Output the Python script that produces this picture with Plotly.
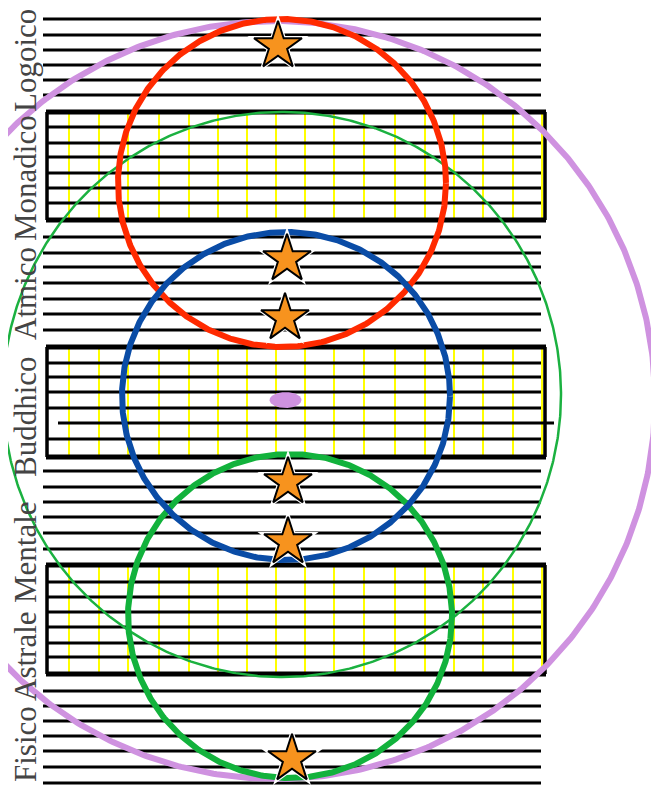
import numpy as np
import plotly.graph_objects as go

W, H = 659, 785
PAGE_OFFSET = 8  # browser default body margin

# ---- data (pixel-space diagram coordinates) ----
PLANE_NAMES = ["Logoico", "Monadico", "Atmico", "Buddhico", "Mentale", "Astrale", "Fisico"]
LABEL_Y = [61, 178, 294, 417, 552, 656, 744]

PLAIN_LINES_Y = [19, 35, 50, 65, 80, 95,
                 237, 253, 267, 283, 299, 314, 330,
                 471, 487, 502, 517, 533, 549,
                 691, 706, 721, 736, 751, 767, 783]
BOX_TOP = [112, 347, 565]
BOX_BOTTOM = [220, 457, 674]
BOX_INNER_Y = [[127, 143, 157, 173, 188, 203],
               [363, 377, 392, 408, 439],
               [582, 597, 612, 627, 643, 657]]
MID_LINE_Y = [423]
YELLOW_X = [69, 99, 128, 159, 189, 218, 247, 276, 305, 334, 364, 395, 425, 454, 483, 513, 542]

LINE_X = [43, 541]
BOX_X = [47, 545]
MID_LINE_X = [58, 554]

CIRCLE_NAMES = ["lilla", "verde_sottile", "verde", "rosso", "blu"]
CIRCLE_CX = [276, 282, 290, 282, 286]
CIRCLE_CY = [400, 394.5, 616, 183, 396]
CIRCLE_RX = [379, 279, 162, 164, 164]
CIRCLE_RY = [379, 282.5, 162, 164, 164]
CIRCLE_COLORS = ["#CF92E0", "#1BB140", "#12B23C", "#FF2A00", "#0A4CA6"]
CIRCLE_WIDTHS = [6, 2.5, 6, 6, 6]

STAR_X = [278, 287, 285, 288, 288, 292]
STAR_Y = [46, 259, 318, 482, 542, 759]

DOT_X, DOT_Y, DOT_RX, DOT_RY = 285.5, 400, 16, 8

fig = go.Figure()

def hsegs(ys, x0, x1):
    xs, yy = [], []
    for y in ys:
        xs += [x0, x1, None]
        yy += [y, y, None]
    return xs, yy

# yellow verticals inside boxes
yx, yy = [], []
for t, b in zip(BOX_TOP, BOX_BOTTOM):
    for x in YELLOW_X:
        yx += [x, x, None]
        yy += [t + 2, b - 2, None]
fig.add_trace(go.Scatter(x=yx, y=yy, mode="lines", line=dict(color="#FFFF00", width=2), hoverinfo="skip"))

# plain black lines
xs, ys = hsegs(PLAIN_LINES_Y, LINE_X[0], LINE_X[1])
fig.add_trace(go.Scatter(x=xs, y=ys, mode="lines", line=dict(color="black", width=3), hoverinfo="skip"))

# inner box lines
inner = [y for grp in BOX_INNER_Y for y in grp]
xs, ys = hsegs(inner, BOX_X[0], LINE_X[1])
fig.add_trace(go.Scatter(x=xs, y=ys, mode="lines", line=dict(color="black", width=3), hoverinfo="skip"))
xs, ys = hsegs(MID_LINE_Y, MID_LINE_X[0], MID_LINE_X[1])
fig.add_trace(go.Scatter(x=xs, y=ys, mode="lines", line=dict(color="black", width=3), hoverinfo="skip"))

# box tops / bottoms
xs, ys = hsegs(BOX_TOP + BOX_BOTTOM, BOX_X[0] - 1, BOX_X[1] + 1)
fig.add_trace(go.Scatter(x=xs, y=ys, mode="lines", line=dict(color="black", width=5), hoverinfo="skip"))

# box sides
sx, sy = [], []
for t, b in zip(BOX_TOP, BOX_BOTTOM):
    for x in BOX_X:
        sx += [x, x, None]
        sy += [t, b, None]
fig.add_trace(go.Scatter(x=sx, y=sy, mode="lines", line=dict(color="black", width=3.5), hoverinfo="skip"))

# circles
th = np.linspace(0, 2 * np.pi, 721)
for cx, cy, rx, ry, col, w in zip(CIRCLE_CX, CIRCLE_CY, CIRCLE_RX, CIRCLE_RY, CIRCLE_COLORS, CIRCLE_WIDTHS):
    fig.add_trace(go.Scatter(x=cx + rx * np.cos(th), y=cy + ry * np.sin(th), mode="lines",
                             line=dict(color=col, width=w), hoverinfo="skip"))

# small lilac ellipse
fig.add_trace(go.Scatter(x=DOT_X + DOT_RX * np.cos(th), y=DOT_Y + DOT_RY * np.sin(th), mode="lines",
                         fill="toself", fillcolor="#CF92E0", line=dict(color="#CF92E0", width=0),
                         hoverinfo="skip"))

# stars with white halo
fig.add_trace(go.Scatter(x=STAR_X, y=STAR_Y, mode="markers",
                         marker=dict(symbol="star", size=46, color="white", line=dict(width=0)),
                         hoverinfo="skip"))
fig.add_trace(go.Scatter(x=STAR_X, y=STAR_Y, mode="markers",
                         marker=dict(symbol="star", size=36, color="#F7931E",
                                     line=dict(color="black", width=2)),
                         hoverinfo="skip"))

for name, y in zip(PLANE_NAMES, LABEL_Y):
    fig.add_annotation(x=25, y=y, text=name, textangle=-90, showarrow=False,
                       xanchor="center", yanchor="middle",
                       font=dict(family="Liberation Serif", size=31, color="#444444"))

o = PAGE_OFFSET
fig.update_layout(width=W - o, height=H - o, margin=dict(l=0, r=0, t=0, b=0),
                  paper_bgcolor="white", plot_bgcolor="white", showlegend=False,
                  xaxis=dict(range=[o, W], visible=False, fixedrange=True),
                  yaxis=dict(range=[H, o], visible=False, fixedrange=True))

fig.write_html("out.html")
